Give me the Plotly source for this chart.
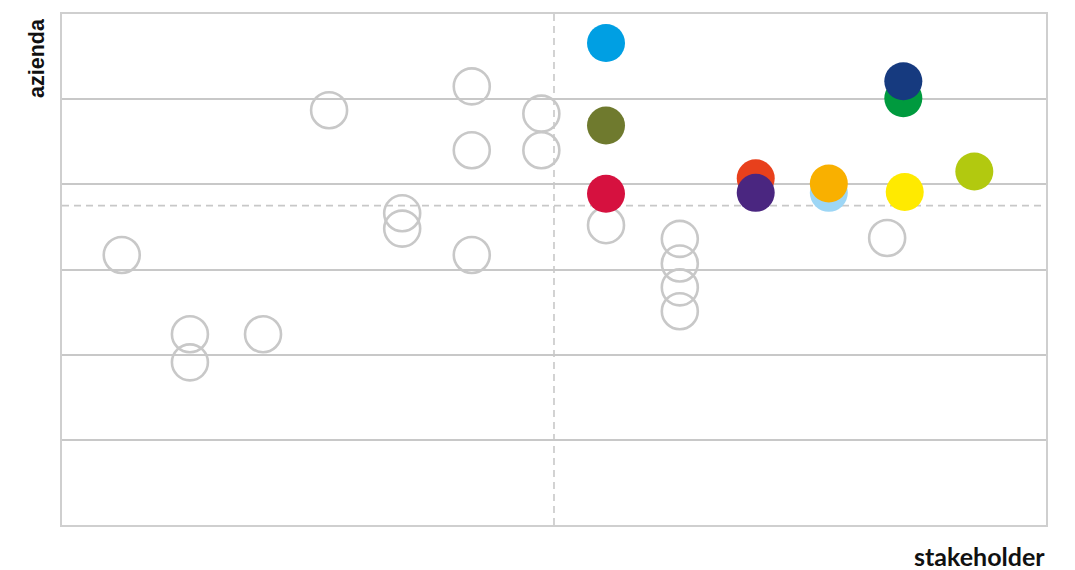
import plotly.graph_objects as go

# Grey (unselected) topics: stakeholder relevance (x) vs company relevance (y)
hollow_x = [0.85, 1.82, 1.82, 2.86, 3.80, 4.84, 4.84, 5.83, 5.83, 5.83,
            6.82, 6.82, 7.74, 8.79, 8.79, 8.79, 8.79, 11.74]
hollow_y = [3.17, 2.24, 1.91, 2.24, 4.87, 3.66, 3.48, 5.15, 4.40, 3.17,
            4.83, 4.40, 3.52, 3.36, 3.07, 2.79, 2.51, 3.37]

# Material (highlighted) topics
colored_x = [7.74, 7.74, 7.74, 9.87, 9.87, 10.91, 10.91, 11.99, 12.98, 11.97, 11.97]
colored_y = [5.66, 4.69, 3.89, 4.07, 3.90, 3.90, 4.01, 3.91, 4.15, 5.01, 5.21]
colored_colors = ["#009FE3", "#6F7A2E", "#D6113F", "#E8401C", "#4A2680",
                  "#9DD6F5", "#F9B000", "#FFEA00", "#B2C90F", "#009A3E", "#163A7F"]

x_range = [0, 14]
y_range = [0, 6]
x_threshold = 7.0
y_threshold = 3.75

grey = "#c8c8c8"

fig = go.Figure()
fig.add_trace(go.Scatter(
    x=hollow_x, y=hollow_y, mode="markers",
    marker=dict(symbol="circle-open", size=36, color=grey, line=dict(width=2.6, color=grey)),
    hoverinfo="skip", showlegend=False, cliponaxis=False,
))
for cx, cy, cc in zip(colored_x, colored_y, colored_colors):
    fig.add_trace(go.Scatter(
        x=[cx], y=[cy], mode="markers",
        marker=dict(symbol="circle", size=38, color=cc, line=dict(width=0)),
        showlegend=False, cliponaxis=False,
    ))

fig.add_shape(type="line", xref="x", yref="paper", x0=x_threshold, x1=x_threshold, y0=0, y1=1,
              line=dict(color=grey, width=1.6, dash="7px,5px"), layer="below")
fig.add_shape(type="line", xref="paper", yref="y", x0=0, x1=1, y0=y_threshold, y1=y_threshold,
              line=dict(color=grey, width=1.6, dash="7px,5px"), layer="below")

fig.add_annotation(text="<b>azienda</b>", xref="paper", yref="paper", x=0, y=1,
                   xanchor="center", yanchor="top", xshift=-25, yshift=-2, textangle=-90,
                   showarrow=False, font=dict(family="Liberation Sans, Arial", size=21.5, color="#111111"))
fig.add_annotation(text="<b>stakeholder</b>", xref="paper", yref="paper", x=1, y=0,
                   xanchor="right", yanchor="top", xshift=1, yshift=-14,
                   showarrow=False, font=dict(family="Lato, Open Sans", size=25, color="#111111"))

fig.update_xaxes(range=x_range, showgrid=False, zeroline=False, showticklabels=False,
                 showline=True, mirror=True, linecolor="#cfcfcf", linewidth=2, ticks="")
fig.update_yaxes(range=y_range, dtick=1, showgrid=True, gridcolor=grey, gridwidth=1.6,
                 zeroline=False, showticklabels=False,
                 showline=True, mirror=True, linecolor="#cfcfcf", linewidth=2, ticks="")

fig.update_layout(
    width=1075, height=570,
    margin=dict(l=54, r=37, t=4, b=52.5),
    plot_bgcolor="white", paper_bgcolor="white",
)

fig.write_html("out.html")
